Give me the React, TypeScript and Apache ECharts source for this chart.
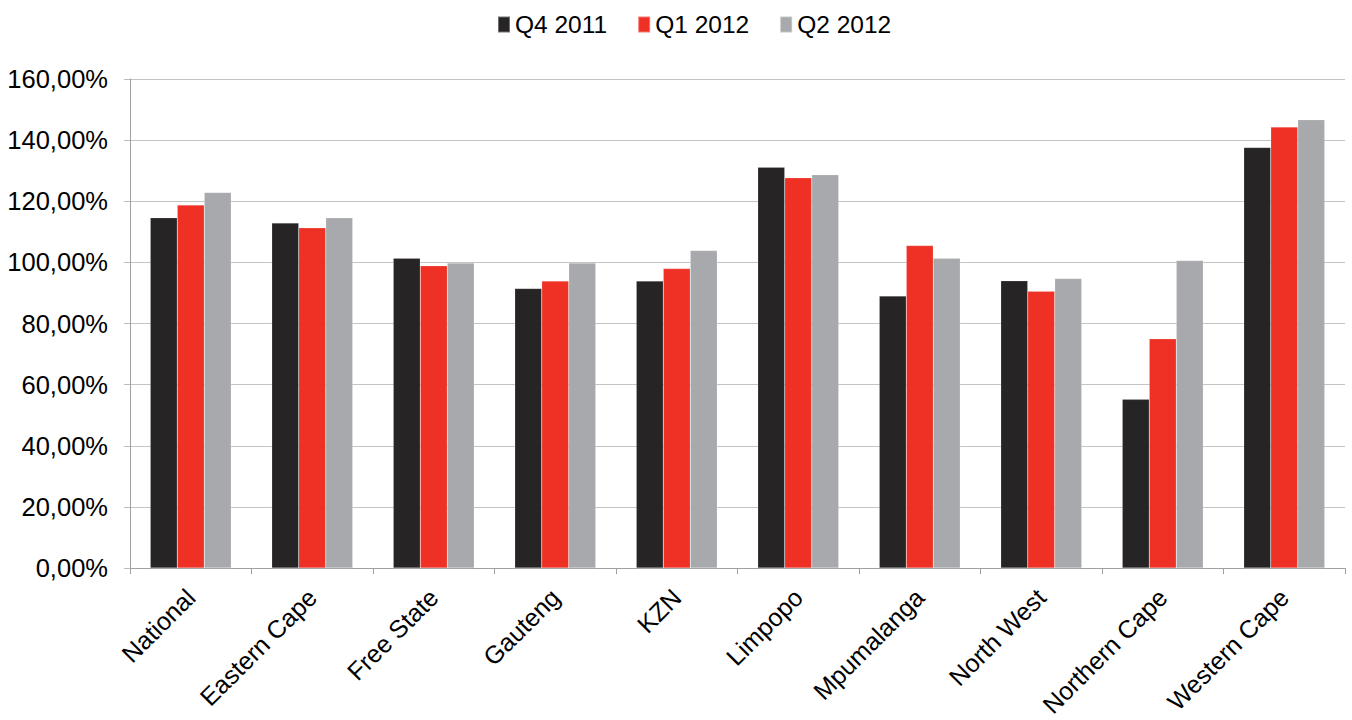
import React, { useEffect, useRef } from "react";
import * as echarts from "echarts";

const categories = [
  "National",
  "Eastern Cape",
  "Free State",
  "Gauteng",
  "KZN",
  "Limpopo",
  "Mpumalanga",
  "North West",
  "Northern Cape",
  "Western Cape",
];

const seriesNames = ["Q4 2011", "Q1 2012", "Q2 2012"];

const q4_2011 = [114.6, 112.9, 101.4, 91.5, 93.9, 131.1, 89.0, 94.0, 55.2, 137.6];
const q1_2012 = [118.8, 111.3, 98.9, 93.9, 98.0, 127.7, 105.5, 90.6, 75.0, 144.3];
const q2_2012 = [122.9, 114.6, 99.8, 99.8, 103.9, 128.7, 101.4, 94.7, 100.6, 146.7];

const colors = ["#262425", "#EE3124", "#A7A9AC"];

const FONT = "Liberation Sans, Arial, sans-serif";

export default function App() {
  const ref = useRef<HTMLDivElement>(null);

  useEffect(() => {
    if (!ref.current) return;
    const chart = echarts.init(ref.current, null, { renderer: "svg" });
    const values = [q4_2011, q1_2012, q2_2012];
    chart.setOption({
      animation: false,
      color: colors,
      textStyle: { fontFamily: FONT },
      legend: {
        left: 492,
        top: 7,
        itemWidth: 12,
        itemHeight: 16,
        itemGap: 30,
        icon: "rect",
        textStyle: { fontSize: 24.5, color: "#000", fontFamily: FONT },
        data: seriesNames,
      },
      grid: { left: 130, right: 7, top: 79, bottom: 151, containLabel: false },
      xAxis: {
        type: "category",
        data: categories,
        axisLine: { show: true, lineStyle: { color: "#A0A0A0", width: 1 } },
        axisTick: { show: true, length: 6, lineStyle: { color: "#A0A0A0" } },
        axisLabel: {
          rotate: 45,
          fontSize: 25,
          color: "#000",
          fontFamily: FONT,
          margin: 25,
          interval: 0,
        },
      },
      yAxis: {
        type: "value",
        min: 0,
        max: 160,
        interval: 20,
        axisLine: { show: true, lineStyle: { color: "#A0A0A0", width: 1 } },
        axisTick: { show: true, length: 6, lineStyle: { color: "#BDBDBD" } },
        splitLine: { show: true, lineStyle: { color: "#C4C4C4", width: 1 } },
        axisLabel: {
          fontSize: 25.5,
          color: "#000",
          fontFamily: FONT,
          margin: 22,
          formatter: (v: number) => v.toFixed(2).replace(".", ",") + "%",
        },
      },
      series: seriesNames.map((name, i) => ({
        name,
        type: "bar",
        data: values[i],
        barWidth: 27,
        barGap: "0%",
        itemStyle: { color: colors[i], borderColor: "rgba(255,255,255,0.35)", borderWidth: 0.5 },
      })),
    });
    return () => chart.dispose();
  }, []);

  return <div ref={ref} style={{ width: 1352, height: 720, position: "absolute", left: 0, top: 0 }} />;
}
